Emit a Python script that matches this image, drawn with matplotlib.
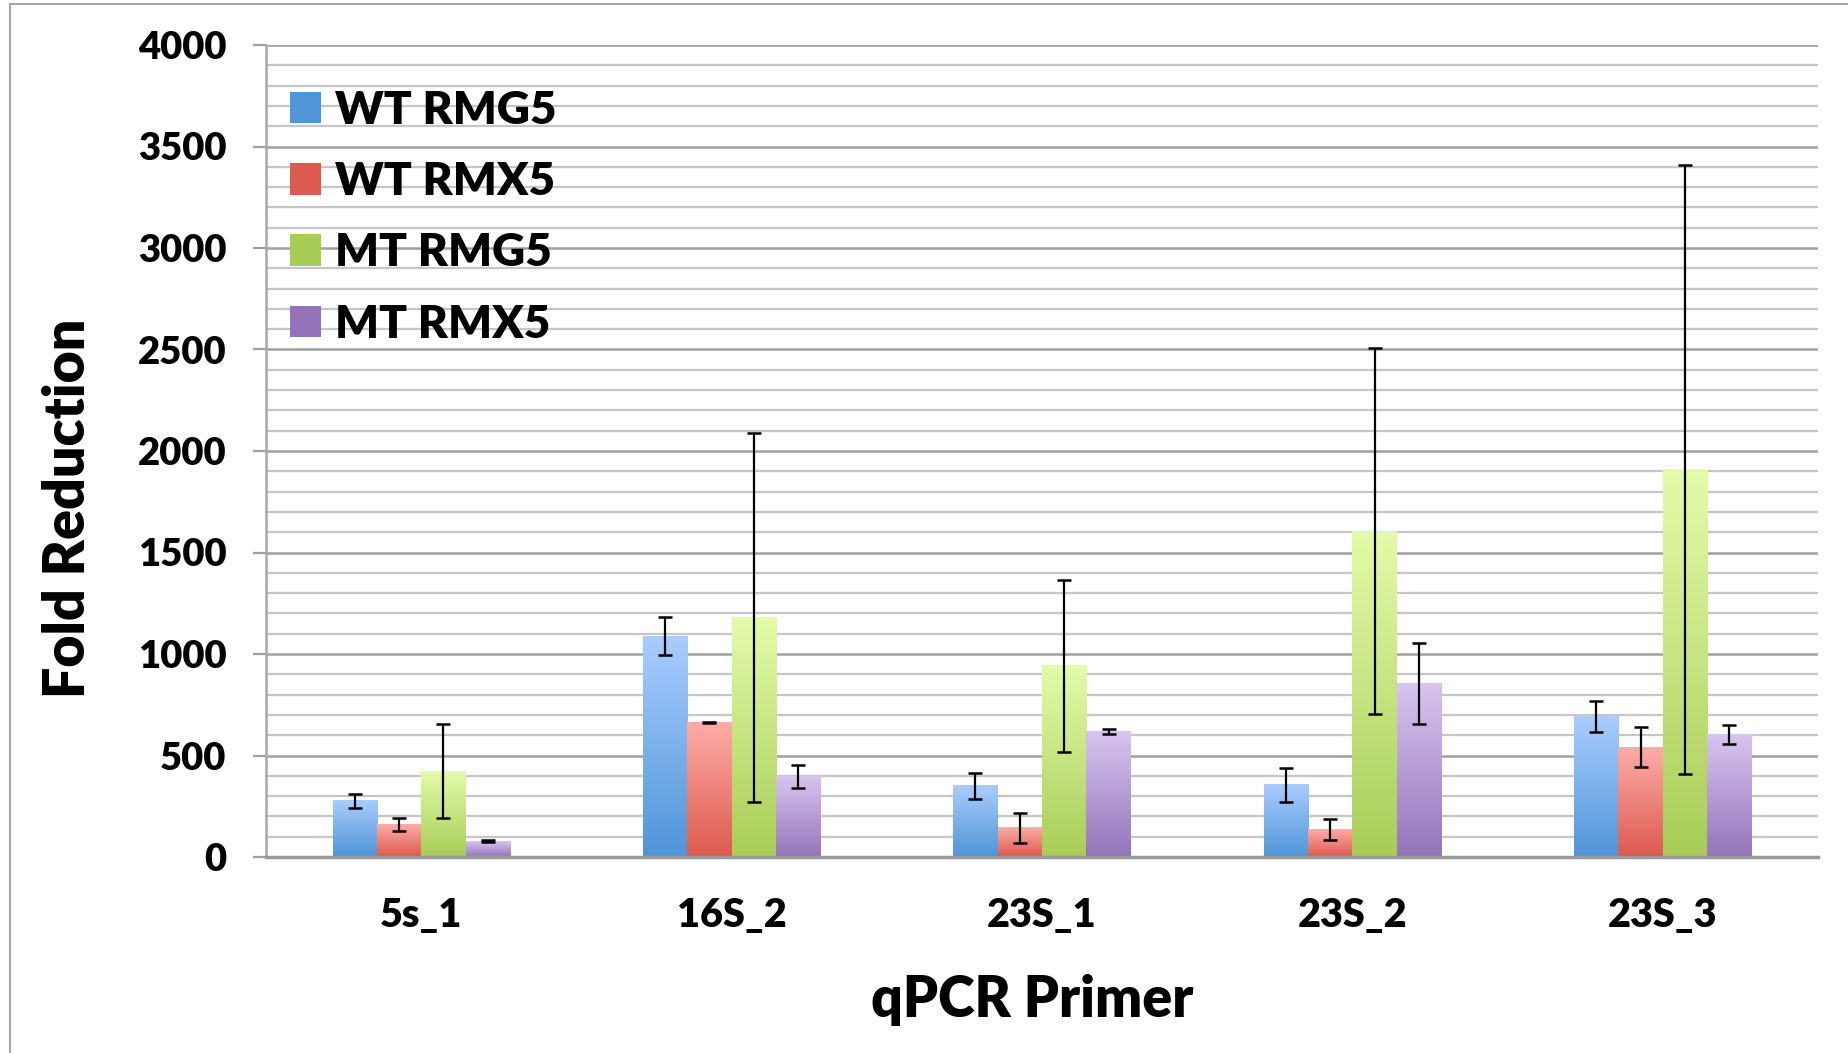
import matplotlib
matplotlib.use("Agg")
import matplotlib.pyplot as plt
import numpy as np
from matplotlib.colors import LinearSegmentedColormap
from matplotlib.lines import Line2D
from matplotlib.ticker import MultipleLocator

plt.rcParams['font.family'] = ['Lato', 'DejaVu Sans']
FW = 'heavy'
plt.rcParams['font.weight'] = FW

categories = ['5s_1', '16S_2', '23S_1', '23S_2', '23S_3']
series_names = ['WT RMG5', 'WT RMX5', 'MT RMG5', 'MT RMX5']
wt_rmg5 = [276, 1087, 350, 355, 694]
wt_rmg5_err = [33, 93, 65, 84, 76]
wt_rmx5 = [161, 663, 144, 137, 541]
wt_rmx5_err = [32, 3, 75, 52, 98]
mt_rmg5 = [422, 1180, 941, 1605, 1910]
mt_rmg5_err = [232, 910, 423, 902, 1500]
mt_rmx5 = [78, 398, 618, 853, 605]
mt_rmx5_err = [4, 56, 12, 200, 46]

values = [wt_rmg5, wt_rmx5, mt_rmg5, mt_rmx5]
errors = [wt_rmg5_err, wt_rmx5_err, mt_rmg5_err, mt_rmx5_err]
# (top colour, bottom colour) gradients
grads = [('#A9CDFF', '#4F95D8'),
         ('#FFACA8', '#DC5A4E'),
         ('#E4FBA9', '#A8CD57'),
         ('#D8C5F0', '#9374BA')]

W, H = 1849, 1053
fig = plt.figure(figsize=(W / 100, H / 100), dpi=100)
ax = fig.add_axes([266 / W, 1 - 857 / H, (1818 - 266) / W, (857 - 45) / H])

x = np.arange(len(categories))
bw = 1 / 7
offsets = [-1.5 * bw, -0.5 * bw, 0.5 * bw, 1.5 * bw]

for i, (vals, errs, (ctop, cbot)) in enumerate(zip(values, errors, grads)):
    bars = ax.bar(x + offsets[i], vals, width=bw, color=cbot, label=series_names[i],
                  zorder=3, linewidth=0)
    cmap = LinearSegmentedColormap.from_list('g%d' % i, [cbot, ctop])
    grad = np.linspace(0, 1, 256).reshape(-1, 1)
    for b in bars:
        x0 = b.get_x()
        h = b.get_height()
        ax.imshow(grad, extent=[x0, x0 + bw, 0, h], origin='lower', aspect='auto',
                  cmap=cmap, zorder=3.5, interpolation='bicubic')
    ax.errorbar(x + offsets[i], vals, yerr=errs, fmt='none', ecolor='black',
                elinewidth=1.6, capsize=4.8, capthick=1.8, zorder=5)

ax.set_xlim(-0.5, len(categories) - 0.5)
ax.set_ylim(0, 4000)
ax.set_aspect('auto')

ax.yaxis.set_major_locator(MultipleLocator(500))
ax.yaxis.set_minor_locator(MultipleLocator(100))
ax.grid(which='minor', axis='y', color='#C6C6C6', linewidth=1.6, zorder=0)
ax.grid(which='major', axis='y', color='#A0A0A0', linewidth=1.8, zorder=0)
ax.set_axisbelow(True)

ax.set_xticks(x)
ax.set_xticklabels(categories, fontsize=28.5, fontweight=FW)
ax.tick_params(axis='x', length=0, pad=29)
ax.tick_params(axis='y', which='major', length=9.5, width=1.6, color='#A0A0A0',
               direction='out', pad=19, labelsize=27.5)
ax.tick_params(axis='y', which='minor', length=0)
for lab in ax.get_yticklabels():
    lab.set_fontweight(FW)

for s in ['top', 'right']:
    ax.spines[s].set_visible(False)
ax.spines['left'].set_color('#A8A8A8')
ax.spines['left'].set_linewidth(1.8)
ax.spines['bottom'].set_color('#9A9A9A')
ax.spines['bottom'].set_linewidth(2.5)
ax.spines['bottom'].set_zorder(6)

leg = ax.legend(loc='upper left', bbox_to_anchor=(-0.008, 0.99), frameon=False,
                prop={'size': 33, 'weight': FW}, handlelength=0.68,
                handleheight=0.68, handletextpad=0.3, labelspacing=0.66,
                borderaxespad=0.4)
for hnd, (ctop, cbot) in zip(leg.legend_handles, grads):
    hnd.set_color(cbot)

fig.text(68 / W, 1 - 508 / H, 'Fold Reduction', rotation=90, ha='center', va='center',
         fontsize=40, fontweight=FW)
fig.text(1032 / W, 1 - 1000 / H, 'qPCR Primer', ha='center', va='center',
         fontsize=40, fontweight=FW)

# outer chart border (left and top visible)
fig.add_artist(Line2D([10 / W, 10 / W], [0, 1 - 4 / H], transform=fig.transFigure,
                      color='#A8A8A8', linewidth=1.5))
fig.add_artist(Line2D([10 / W, 1], [1 - 4 / H, 1 - 4 / H], transform=fig.transFigure,
                      color='#A8A8A8', linewidth=1.5))

fig.savefig('out.png', dpi=100)
